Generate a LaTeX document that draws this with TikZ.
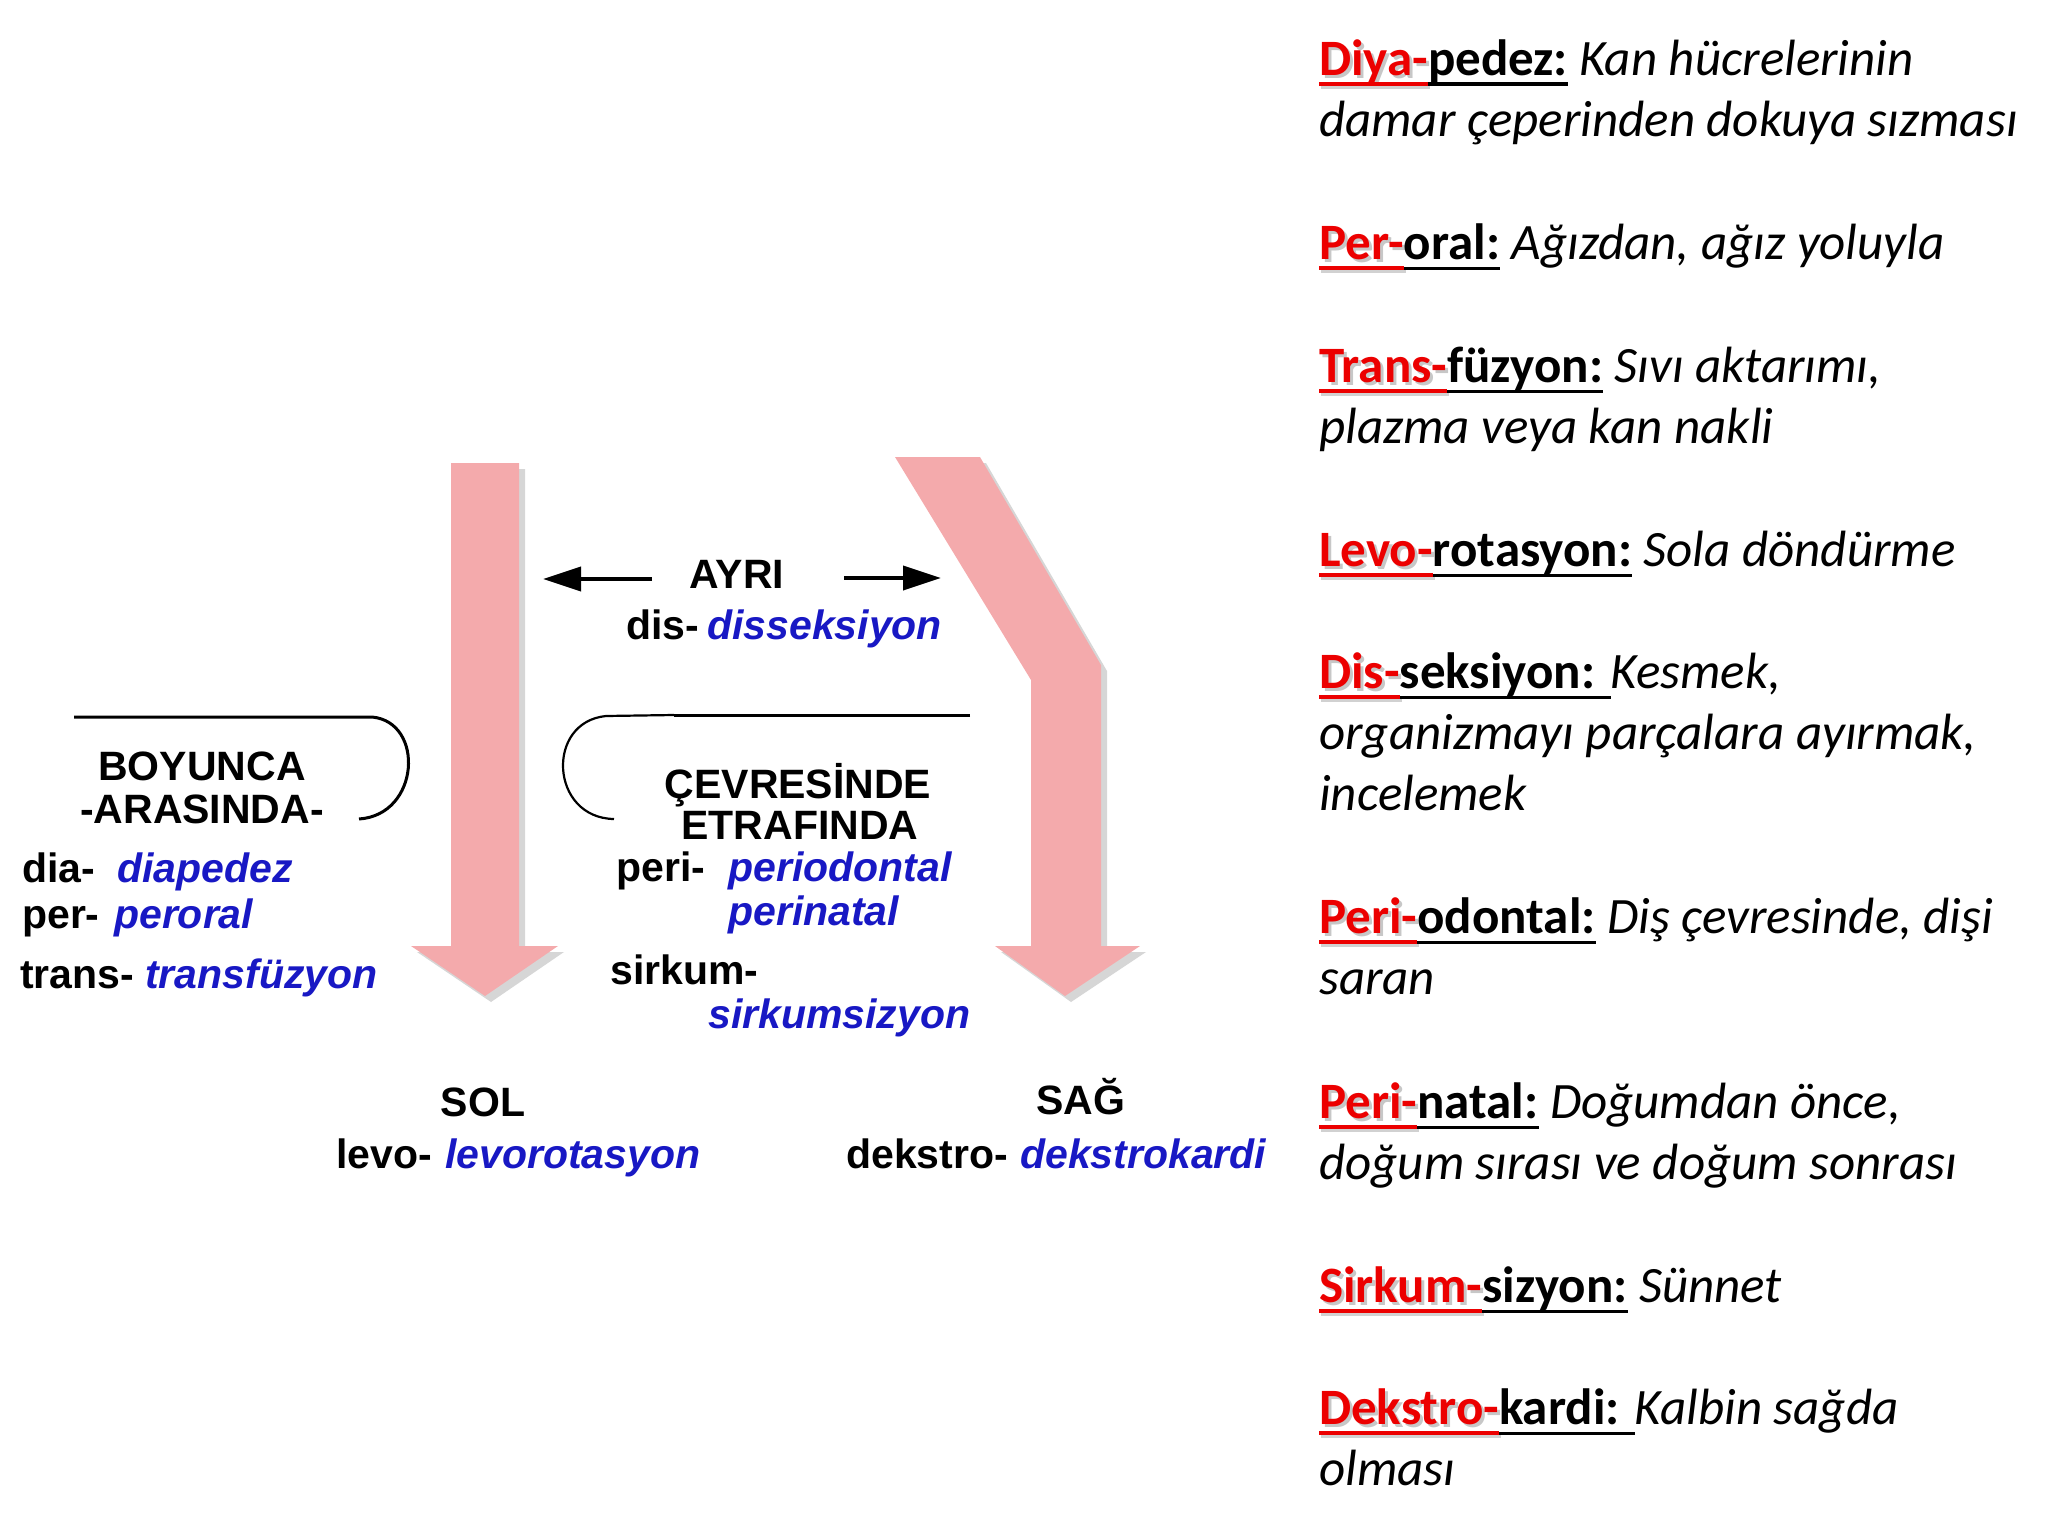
\documentclass[tikz,border=0pt]{standalone}
\usepackage{fontspec}
\setmainfont{Carlito}
\newfontfamily\arialf{Liberation Sans}
\usetikzlibrary{arrows.meta}
\definecolor{pinkarrow}{RGB}{244,170,172}
\definecolor{termblue}{RGB}{24,24,196}
\definecolor{defred}{RGB}{236,0,0}
\newcommand\redpre[1]{\setbox0\hbox{\bfseries #1}%
  \rlap{\kern3pt\raisebox{-3pt}{\color{black!22}\bfseries #1}}%
  \rlap{\kern2pt\color{black!18}\rule[-14pt]{\wd0}{4pt}}%
  \rlap{\color{defred}\rule[-11pt]{\wd0}{4pt}}%
  {\color{defred}\bfseries #1}}
\newcommand\blkpart[1]{\setbox0\hbox{\bfseries #1}%
  \rlap{\color{black}\rule[-11pt]{\wd0}{3.5pt}}\box0\relax}
\tikzset{
  defn/.style={anchor=base west, inner sep=0pt, align=left,
    font=\fontsize{51pt}{61.3pt}\selectfont},
  lab/.style={anchor=base west, inner sep=0pt,
    font=\arialf\bfseries\fontsize{41pt}{48pt}\selectfont},
  labc/.style={anchor=base, inner sep=0pt,
    font=\arialf\bfseries\fontsize{41pt}{48pt}\selectfont},
  term/.style={anchor=base west, inner sep=0pt, text=termblue,
    font=\arialf\bfseries\itshape\fontsize{41pt}{48pt}\selectfont},
  bigarrow/.style={fill=pinkarrow, draw=none},
  arrowshadow/.style={fill=black, opacity=0.16, draw=none},
  bracket/.style={draw=black, line width=3pt},
}
\begin{document}
\begin{tikzpicture}[x=1pt,y=-1pt]
\useasboundingbox (0,0) rectangle (2048,1536);
% ---------- pink arrows ----------
\fill[arrowshadow] (457,469) -- (525,469) -- (525,952) -- (564,952) -- (491,1002) -- (417,952) -- (457,952) -- cycle;
\fill[bigarrow] (451,463) -- (519,463) -- (519,946) -- (558,946) -- (485,996) -- (411,946) -- (451,946) -- cycle;
\fill[arrowshadow] (901,463) -- (986,463) -- (1107,671) -- (1107,952) -- (1146,952) -- (1071,1002) -- (1001,952) -- (1037,952) -- (1037,686) -- cycle;
\fill[bigarrow] (895,457) -- (980,457) -- (1101,665) -- (1101,946) -- (1140,946) -- (1065,996) -- (995,946) -- (1031,946) -- (1031,680) -- cycle;
% ---------- AYRI ----------
\node[labc] (ayri) at (737,588) {AYRI};
\coordinate (al1) at (652,579);
\coordinate (al2) at (543,579);
\coordinate (ar1) at (844,578);
\coordinate (ar2) at (941,578);
\draw[line width=4pt,-{Triangle[length=38pt,width=24pt]}] (al1) -- (al2);
\draw[line width=4pt,-{Triangle[length=38pt,width=24pt]}] (ar1) -- (ar2);
\node[lab] (dis) at (626,639) {dis-};
\node[term] (disterm) at (707,639) {disseksiyon};
% ---------- brackets ----------
\coordinate (lb1) at (74,717);
\coordinate (lb2) at (372,717);
\coordinate (lb3) at (359,819);
\draw[bracket] (lb1) -- (lb2) .. controls (425,722) and (420,815) .. (lb3);
\coordinate (rb1) at (970,715);
\coordinate (rb2) at (674,715);
\coordinate (rb3) at (606,716);
\coordinate (rb4) at (614,819);
\draw[bracket] (rb1) -- (rb2);
\draw[line width=2.2pt] (rb2) -- (rb3) .. controls (545,722) and (550,818) .. (rb4);
% ---------- left group ----------
\node[labc] (boy) at (202,780) {BOYUNCA};
\node[labc] (ara) at (202,823) {-ARASINDA-};
\node[lab] (dia) at (22,882) {dia-};
\node[term] (diat) at (117,882) {diapedez};
\node[lab] (per) at (22,928) {per-};
\node[term] (pert) at (114,928) {peroral};
\node[lab] (trans) at (20,988) {trans-};
\node[term] (transt) at (145,988) {transfüzyon};
% ---------- middle group ----------
\node[labc] (cev) at (798,798) {ÇEVRESİNDE};
\node[labc] (etr) at (800,839) {ETRAFINDA};
\node[lab] (peri) at (616,881) {peri-};
\node[term] (perio) at (728,881) {periodontal};
\node[term] (perin) at (728,925) {perinatal};
\node[lab] (sirk) at (610,984) {sirkum-};
\node[term] (sirkt) at (708,1028) {sirkumsizyon};
% ---------- bottom ----------
\node[labc] (sol) at (483,1116) {SOL};
\node[lab] (levo) at (336,1168) {levo-};
\node[term] (levot) at (445,1168) {levorotasyon};
\node[labc] (sag) at (1081,1114) {SAĞ};
\node[lab] (dek) at (846,1168) {dekstro-};
\node[term] (dekt) at (1020,1168) {dekstrokardi};
% ---------- definitions (anchored at the baseline of their last line) ----------
\node[defn] (d1) at (1319,136.3) {\redpre{Diya-}\blkpart{pedez:} \itshape Kan hücrelerinin\\ \itshape damar çeperinden dokuya sızması};
\node[defn] (d2) at (1319,259) {\redpre{Per-}\blkpart{oral:} \itshape Ağızdan, ağız yoluyla};
\node[defn] (d3) at (1319,443.3) {\redpre{Trans-}\blkpart{füzyon:} \itshape Sıvı aktarımı,\\ \itshape plazma veya kan nakli};
\node[defn] (d4) at (1319,566) {\redpre{Levo-}\blkpart{rotasyon:} \itshape Sola döndürme};
\node[defn] (d5) at (1319,810.6) {\redpre{Dis-}\blkpart{seksiyon: }\itshape Kesmek,\\ \itshape organizmayı parçalara ayırmak,\\ \itshape incelemek};
\node[defn] (d6) at (1319,994.3) {\redpre{Peri-}\blkpart{odontal:} \itshape Diş çevresinde, dişi\\ \itshape saran};
\node[defn] (d7) at (1319,1179.3) {\redpre{Peri-}\blkpart{natal:} \itshape Doğumdan önce,\\ \itshape doğum sırası ve doğum sonrası};
\node[defn] (d8) at (1319,1302) {\redpre{Sirkum-}\blkpart{sizyon:} \itshape Sünnet};
\node[defn] (d9) at (1319,1485.3) {\redpre{Dekstro-}\blkpart{kardi: }\itshape Kalbin sağda\\ \itshape olması};
\end{tikzpicture}
\end{document}
